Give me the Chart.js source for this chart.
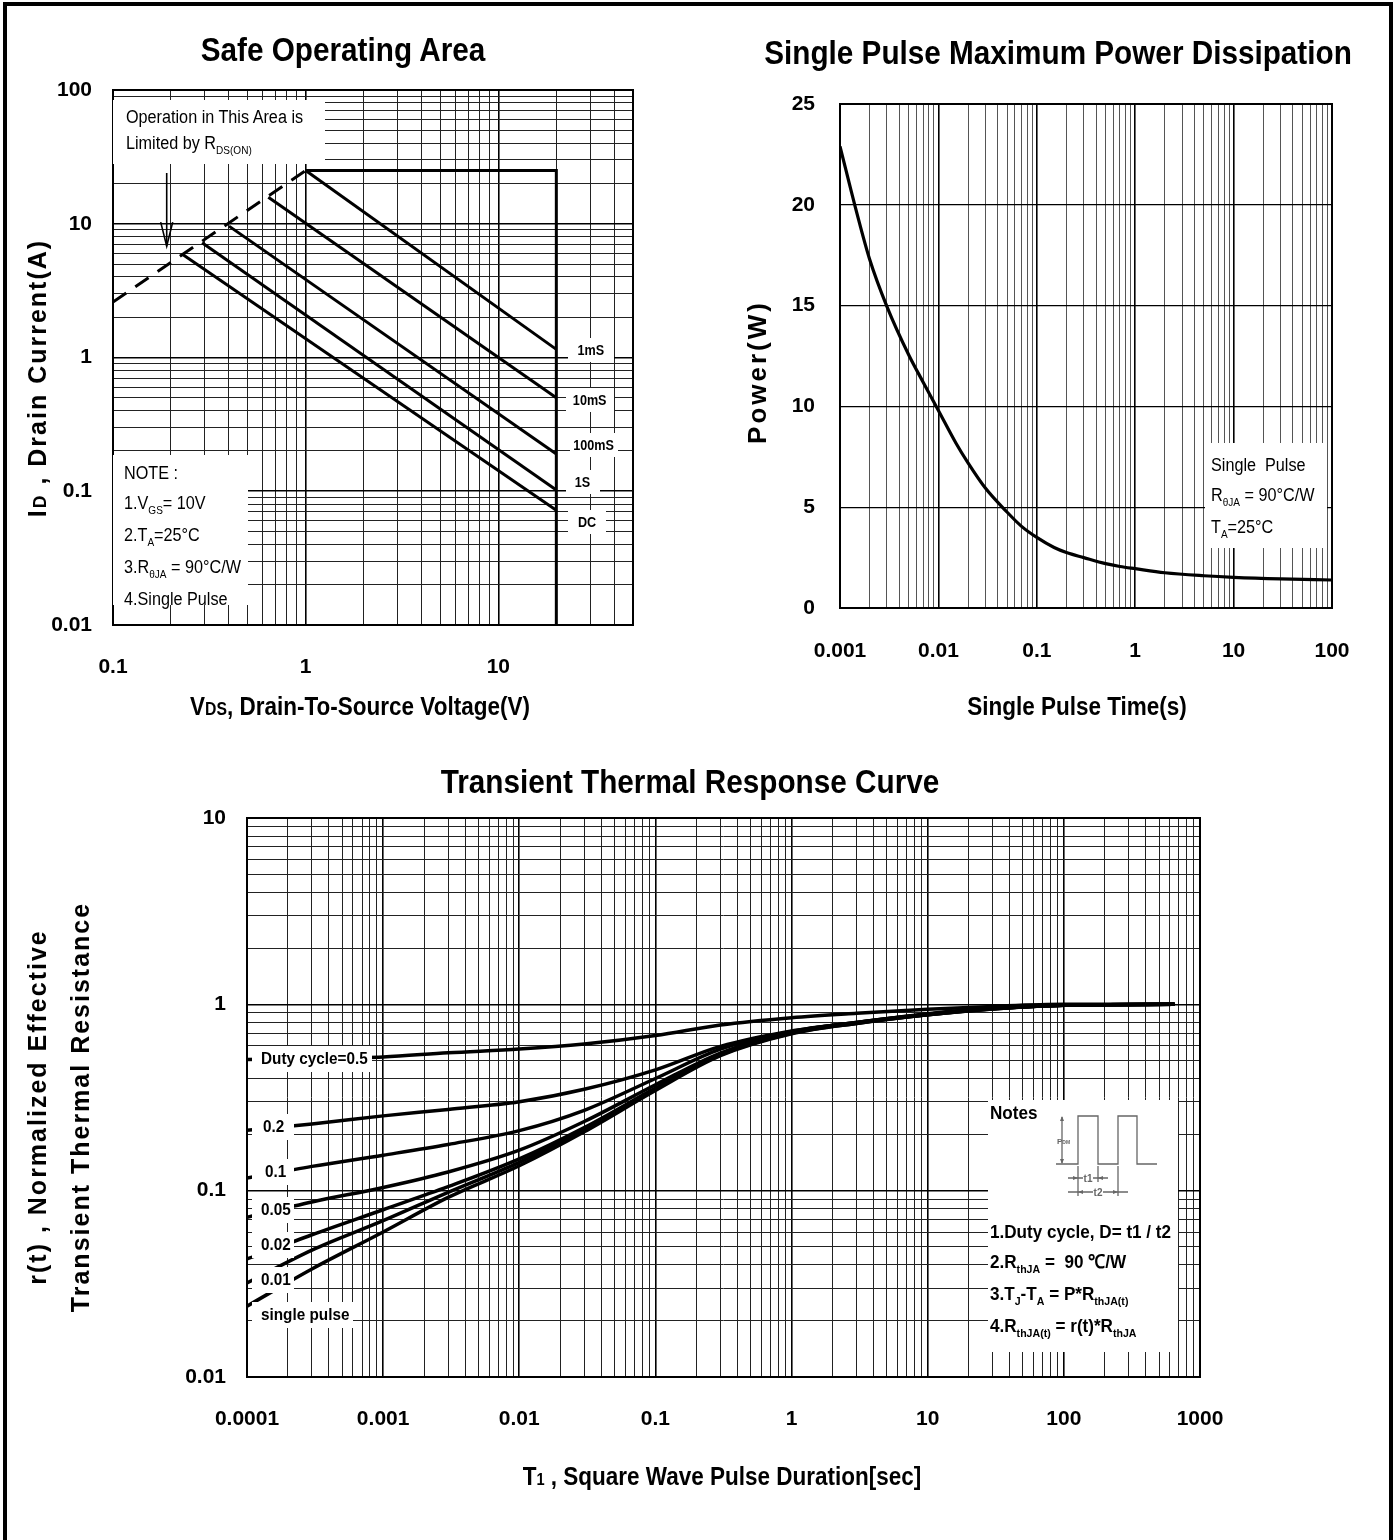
<!DOCTYPE html>
<html>
<head>
<meta charset="utf-8">
<script src="https://cdn.jsdelivr.net/npm/chart.js@4.4.1/dist/chart.umd.min.js"></script>
<style>
body { margin: 0; background: #fff; }
#page { position: relative; width: 1397px; height: 1540px; overflow: hidden; background: #fff; }
#frame { position: absolute; left: 3px; top: 2px; width: 1382px; height: 1600px; border: 4px solid #000; border-bottom: none; }
canvas { position: absolute; }
.t { position: absolute; white-space: nowrap; color: #000; font-family: "Liberation Sans", Arial, sans-serif; }
.title { font-weight: bold; font-size: 33px; transform: translate(-50%, -50%) scaleX(0.9); }
.xt { font-weight: bold; font-size: 25px; transform: translate(-50%, -50%) scaleX(0.9); }
.yt { font-weight: bold; font-size: 25px; letter-spacing: 2px; transform: translate(-50%, -50%) rotate(-90deg); }
.box { background: #fff; }
.sq { display: inline-block; transform: scaleX(0.9); transform-origin: 0 0; }
.lbl { background: #fff; font-weight: bold; font-size: 14px; text-align: center; height: 24px; line-height: 24px; }
.lbl span { display: inline-block; transform: scaleX(0.9); }
.dl { background: #fff; font-weight: bold; font-size: 17px; height: 26px; line-height: 26px; padding-left: 9px; }
.sub { font-size: 62%; position: relative; top: 5px; }
</style>
</head>
<body>
<div id="page">
  <canvas id="soa" width="690" height="700" style="left:0;top:0"></canvas>
  <canvas id="power" width="690" height="700" style="left:700px;top:0"></canvas>
  <canvas id="thermal" width="1390" height="720" style="left:0;top:740px"></canvas>

  <div id="frame"></div>

  <!-- Safe Operating Area texts -->
  <div class="t title" style="left:343px;top:50px">Safe Operating Area</div>
  <div class="t yt" style="left:37px;top:378px">I<span style="font-size:70%">D</span> , Drain Current(A)</div>
  <div class="t xt" style="left:360px;top:706px">V<span style="font-size:70%">DS</span>, Drain-To-Source Voltage(V)</div>
  <div class="t box" style="left:113px;top:100px;width:199px;height:60px;padding:4px 0 0 13px">
    <span class="sq" style="font-size:18px;line-height:26px">Operation in This Area is<br>Limited by R<span class="sub">DS(ON)</span></span>
  </div>
  <div class="t box" style="left:113px;top:455px;width:124px;height:147px;padding:3px 0 0 11px">
    <span class="sq" style="font-size:18px;line-height:30px">NOTE :<br>1.V<span class="sub">GS</span>= 10V<br>2.T<span class="sub">A</span>=25°C<br>3.R<span class="sub">θJA</span> = 90°C/W<br>4.Single Pulse</span>
  </div>
  <div class="t lbl" style="left:568px;top:338px;width:46px"><span>1mS</span></div>
  <div class="t lbl" style="left:566px;top:388px;width:48px"><span>10mS</span></div>
  <div class="t lbl" style="left:570px;top:433px;width:48px"><span>100mS</span></div>
  <div class="t lbl" style="left:566px;top:470px;width:34px"><span>1S</span></div>
  <div class="t lbl" style="left:568px;top:510px;width:38px"><span>DC</span></div>

  <!-- Power dissipation texts -->
  <div class="t title" style="left:1058px;top:53px">Single Pulse Maximum Power Dissipation</div>
  <div class="t yt" style="left:757px;top:372px;font-size:26px;letter-spacing:3px">Power(W)</div>
  <div class="t xt" style="left:1077px;top:706px">Single Pulse Time(s)</div>
  <div class="t box" style="left:1205px;top:443px;width:116px;height:98px;padding:7px 0 0 6px">
    <span class="sq" style="font-size:18px;line-height:30px">Single&nbsp; Pulse<br>R<span class="sub">θJA</span> = 90°C/W<br>T<span class="sub">A</span>=25°C</span>
  </div>

  <!-- Transient thermal texts -->
  <div class="t title" style="left:690px;top:782px">Transient Thermal Response Curve</div>
  <div class="t yt" style="left:37px;top:1107px">r(t) , Normalized Effective</div>
  <div class="t yt" style="left:80px;top:1107px">Transient Thermal Resistance</div>
  <div class="t xt" style="left:722px;top:1476px">T<span style="font-size:65%">1</span> , Square Wave Pulse Duration[sec]</div>
  <div class="t dl" style="left:252px;top:1046px;width:111px"><span class="sq">Duty cycle=0.5</span></div>
  <div class="t dl" style="left:252px;top:1114px;width:31px;padding-left:11px"><span class="sq">0.2</span></div>
  <div class="t dl" style="left:252px;top:1159px;width:29px;padding-left:13px"><span class="sq">0.1</span></div>
  <div class="t dl" style="left:252px;top:1197px;width:33px"><span class="sq">0.05</span></div>
  <div class="t dl" style="left:252px;top:1232px;width:33px"><span class="sq">0.02</span></div>
  <div class="t dl" style="left:252px;top:1267px;width:33px"><span class="sq">0.01</span></div>
  <div class="t dl" style="left:252px;top:1302px;width:92px"><span class="sq">single pulse</span></div>
  <div class="t box" style="left:988px;top:1100px;width:190px;height:252px;font-weight:bold;font-size:19px">
    <span class="sq" style="position:absolute;left:2px;top:0;line-height:26px">Notes</span>
    <svg style="position:absolute;left:62px;top:8px" width="115" height="95" viewBox="0 0 115 95">
      <g stroke="#666" stroke-width="1.3" fill="none">
        <polyline points="6,56 28,56 28,8 48,8 48,56 68,56 68,8 87,8 87,56 107,56"/>
        <line x1="12" y1="9" x2="12" y2="55"/>
        <line x1="18" y1="70" x2="58" y2="70"/>
        <line x1="18" y1="84" x2="78" y2="84"/>
        <line x1="28" y1="58" x2="28" y2="88"/>
        <line x1="48" y1="58" x2="48" y2="74"/>
        <line x1="68" y1="58" x2="68" y2="88"/>
      </g>
      <g fill="#666">
        <polygon points="12,8 10,13 14,13"/>
        <polygon points="12,56 10,51 14,51"/>
        <polygon points="28,70 23,68 23,72"/>
        <polygon points="48,70 53,68 53,72"/>
        <polygon points="28,84 33,82 33,86"/>
        <polygon points="68,84 63,82 63,86"/>
      </g>
      <text x="7" y="36" font-size="8" fill="#666" font-family="Liberation Sans, sans-serif">P<tspan font-size="5">DM</tspan></text>
      <rect x="33" y="64" width="10" height="11" fill="#fff"/>
      <text x="38" y="74" font-size="10" fill="#666" text-anchor="middle" font-family="Liberation Sans, sans-serif">t1</text>
      <rect x="43" y="78" width="10" height="11" fill="#fff"/>
      <text x="48" y="88" font-size="10" fill="#666" text-anchor="middle" font-family="Liberation Sans, sans-serif">t2</text>
    </svg>
    <span class="sq" style="position:absolute;left:2px;top:117px;line-height:30px">1.Duty cycle, D= t1 / t2<br>2.R<span class="sub">thJA</span> =&nbsp; 90 ℃/W<br>3.T<span class="sub">J</span>-T<span class="sub">A</span> = P*R<span class="sub">thJA(t)</span><br>4.R<span class="sub">thJA(t)</span> = r(t)*R<span class="sub">thJA</span></span>
  </div>
</div>

<script>
// ---------- data: Safe Operating Area ----------
const soaDecadesX = [0.1, 1, 10];
const soaDecadesY = [0.01, 0.1, 1, 10, 100];
const soaXLabels = ['0.1', '1', '10'];
const soaYLabels = ['0.01', '0.1', '1', '10', '100'];

const rdsV = [0.1, 1];          const rdsI = [2.6, 25];
const limitV = [1, 20, 20];     const limitI = [25, 25, 0.01];
const ms1V = [1, 20];           const ms1I = [25, 1.15];
const ms10V = [0.64, 20];       const ms10I = [15.8, 0.5];
const ms100V = [0.40, 20];      const ms100I = [9.6, 0.19];
const s1V = [0.29, 20];         const s1I = [7.2, 0.102];
const dcV = [0.23, 20];         const dcI = [5.9, 0.072];
const arrowV = [0.19, 0.19];    const arrowI = [24, 6.8];

// ---------- data: Single Pulse Maximum Power ----------
const pwrDecades = [0.001, 0.01, 0.1, 1, 10, 100];
const pwrXLabels = ['0.001', '0.01', '0.1', '1', '10', '100'];
const pulseTime = [0.001, 0.0015, 0.002, 0.003, 0.005, 0.007, 0.01, 0.015, 0.02, 0.03, 0.05, 0.07, 0.1, 0.15, 0.2, 0.3, 0.5, 0.7, 1, 2, 5, 10, 30, 100];
const pulsePower = [22.9, 19.5, 17.3, 14.95, 12.55, 11.2, 9.8, 8.2, 7.2, 5.95, 4.75, 4.05, 3.5, 3.0, 2.75, 2.5, 2.2, 2.06, 1.95, 1.75, 1.6, 1.52, 1.44, 1.39];

// ---------- data: Transient Thermal Response ----------
const thDecadesX = [0.0001, 0.001, 0.01, 0.1, 1, 10, 100, 1000];
const thDecadesY = [0.01, 0.1, 1, 10];
const thXLabels = ['0.0001', '0.001', '0.01', '0.1', '1', '10', '100', '1000'];
const thYLabels = ['0.01', '0.1', '1', '10'];

const pulseDuration = [0.0001, 0.0003, 0.001, 0.003, 0.01, 0.03, 0.1, 0.3, 1, 3, 10, 30, 100, 650];
const rDuty05 = [0.505, 0.512, 0.522, 0.55, 0.575, 0.612, 0.68, 0.775, 0.848, 0.895, 0.94, 0.975, 1.0, 1.0];
const rDuty02 = [0.211, 0.228, 0.252, 0.273, 0.30, 0.35, 0.445, 0.595, 0.72, 0.80, 0.89, 0.955, 0.99, 1.0];
const rDuty01 = [0.117, 0.135, 0.155, 0.177, 0.21, 0.27, 0.40, 0.575, 0.715, 0.80, 0.885, 0.95, 0.99, 1.0];
const rDuty005 = [0.072, 0.087, 0.104, 0.126, 0.165, 0.235, 0.37, 0.548, 0.71, 0.80, 0.885, 0.95, 0.99, 1.0];
const rDuty002 = [0.043, 0.058, 0.079, 0.105, 0.148, 0.218, 0.355, 0.54, 0.705, 0.795, 0.88, 0.948, 0.99, 1.0];
const rDuty001 = [0.032, 0.048, 0.069, 0.098, 0.142, 0.212, 0.35, 0.535, 0.70, 0.79, 0.88, 0.945, 0.99, 1.0];
const rSingle = [0.024, 0.038, 0.060, 0.092, 0.136, 0.207, 0.345, 0.53, 0.695, 0.79, 0.878, 0.945, 0.99, 1.0];

// ---------- helpers ----------
const tickFont = { family: '"Liberation Sans", Arial, sans-serif', size: 21, weight: 'bold' };

function pts(xs, ys) {
    return xs.map((x, i) => ({ x: x, y: ys[i] }));
}

// every 1..9 step of each decade, up to max
function logGrid(decades, max) {
    const out = [];
    decades.forEach(d => {
        for (let m = 1; m <= 9; m++) {
            const v = m === 1 ? d : m * d;
            if (v <= max * 1.0001) out.push(v);
        }
    });
    return out;
}

function logAxis(decades, labels, min, max, opts) {
    const grid = logGrid(decades, max);
    return {
        type: 'logarithmic',
        min: min,
        max: max,
        afterBuildTicks: scale => { scale.ticks = grid.map(v => ({ value: v })); },
        afterFit: scale => {
            if (opts.width) scale.width = opts.width;
            if (opts.height) scale.height = opts.height;
        },
        ticks: {
            autoSkip: false,
            maxRotation: 0,
            minRotation: 0,
            padding: opts.pad,
            color: '#000',
            font: tickFont,
            callback: v => {
                const i = decades.indexOf(v);
                return i >= 0 ? labels[i] : '';
            }
        },
        grid: {
            drawTicks: false,
            color: c => (c.tick && decades.includes(c.tick.value)) ? '#000' : (opts.minor || '#222'),
            lineWidth: c => (c.tick && decades.includes(c.tick.value)) ? 1.6 : 1
        },
        border: { display: false }
    };
}

function line(data, width, extra) {
    return Object.assign({
        data: data,
        showLine: true,
        borderColor: '#000',
        borderWidth: width,
        pointRadius: 0,
        fill: false,
        tension: 0
    }, extra || {});
}

const framePlugin = {
    id: 'frame',
    afterDatasetsDraw(chart) {
        const a = chart.chartArea;
        const c = chart.ctx;
        c.save();
        c.strokeStyle = '#000';
        c.lineWidth = 2;
        c.strokeRect(a.left, a.top, a.right - a.left, a.bottom - a.top);
        c.restore();
    }
};

const baseOptions = {
    responsive: false,
    animation: false,
    events: [],
    plugins: { legend: { display: false }, tooltip: { enabled: false } }
};

// ---------- Safe Operating Area ----------
const arrowHead = {
    id: 'arrowHead',
    afterDatasetsDraw(chart) {
        const px = chart.scales.x.getPixelForValue(arrowV[1]);
        const py = chart.scales.y.getPixelForValue(arrowI[1]);
        const c = chart.ctx;
        c.save();
        c.strokeStyle = '#000';
        c.lineWidth = 1.6;
        c.beginPath();
        c.moveTo(px - 6, py - 24);
        c.lineTo(px, py);
        c.lineTo(px + 6, py - 24);
        c.stroke();
        c.restore();
    }
};

new Chart(document.getElementById('soa'), {
    type: 'scatter',
    data: {
        datasets: [
            line(pts(rdsV, rdsI), 3, { borderDash: [16, 11] }),
            line(pts(limitV, limitI), 3),
            line(pts(ms1V, ms1I), 3),
            line(pts(ms10V, ms10I), 3),
            line(pts(ms100V, ms100I), 3),
            line(pts(s1V, s1I), 3),
            line(pts(dcV, dcI), 3),
            line(pts(arrowV, arrowI), 1.6)
        ]
    },
    options: Object.assign({}, baseOptions, {
        layout: { padding: { top: 90, right: 57, left: 0, bottom: 0 } },
        scales: {
            x: logAxis(soaDecadesX, soaXLabels, 0.1, 50, { height: 75, pad: 30 }),
            y: logAxis(soaDecadesY, soaYLabels, 0.01, 100, { width: 113, pad: 21 })
        }
    }),
    plugins: [framePlugin, arrowHead]
});

// ---------- Single Pulse Maximum Power Dissipation ----------
new Chart(document.getElementById('power'), {
    type: 'scatter',
    data: {
        datasets: [
            line(pts(pulseTime, pulsePower), 3.2, { cubicInterpolationMode: 'monotone' })
        ]
    },
    options: Object.assign({}, baseOptions, {
        layout: { padding: { top: 104, right: 58, left: 0, bottom: 0 } },
        scales: {
            x: logAxis(pwrDecades, pwrXLabels, 0.001, 100, { height: 92, pad: 31, minor: '#555' }),
            y: {
                type: 'linear',
                min: 0,
                max: 25,
                afterFit: scale => { scale.width = 140; },
                ticks: { stepSize: 5, padding: 25, color: '#000', font: tickFont },
                grid: { drawTicks: false, color: '#000', lineWidth: 1.3 },
                border: { display: false }
            }
        }
    }),
    plugins: [framePlugin]
});

// ---------- Transient Thermal Response Curve ----------
const curveOpts = { cubicInterpolationMode: 'monotone' };
new Chart(document.getElementById('thermal'), {
    type: 'scatter',
    data: {
        datasets: [
            line(pts(pulseDuration, rDuty05), 3.5, curveOpts),
            line(pts(pulseDuration, rDuty02), 3.5, curveOpts),
            line(pts(pulseDuration, rDuty01), 3.5, curveOpts),
            line(pts(pulseDuration, rDuty005), 3.5, curveOpts),
            line(pts(pulseDuration, rDuty002), 3.5, curveOpts),
            line(pts(pulseDuration, rDuty001), 3.5, curveOpts),
            line(pts(pulseDuration, rSingle), 3.5, curveOpts)
        ]
    },
    options: Object.assign({}, baseOptions, {
        layout: { padding: { top: 78, right: 190, left: 0, bottom: 0 } },
        scales: {
            x: logAxis(thDecadesX, thXLabels, 0.0001, 1000, { height: 83, pad: 30 }),
            y: logAxis(thDecadesY, thYLabels, 0.01, 10, { width: 247, pad: 21 })
        }
    }),
    plugins: [framePlugin]
});
</script>
</body>
</html>
